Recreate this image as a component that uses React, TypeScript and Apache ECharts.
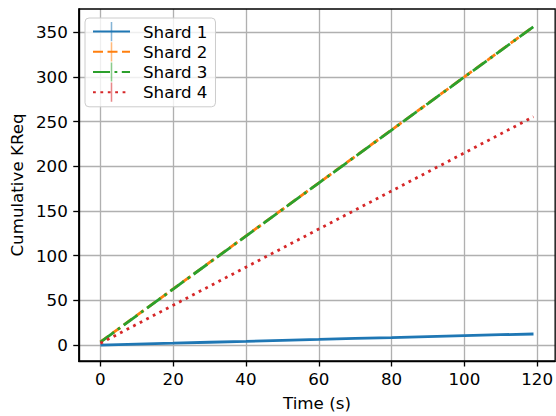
import React, { useEffect, useRef } from "react";
import * as echarts from "echarts";

const times = [0, 10, 20, 30, 40, 50, 60, 70, 80, 90, 100, 110, 119];
const shard1 = [0, 1.1, 2.1, 3.2, 4.2, 5.3, 6.3, 7.4, 8.4, 9.5, 10.6, 11.6, 12.4];
const shard2 = [3.5, 33.2, 62.8, 92.5, 122.1, 151.8, 181.4, 211.1, 240.7, 270.4, 300.0, 329.7, 356.3];
const shard3 = [3.4, 33.0, 62.7, 92.3, 122.0, 151.6, 181.3, 210.9, 240.6, 270.2, 299.9, 329.5, 356.1];
const shard4 = [2.0, 23.3, 44.6, 65.9, 87.2, 108.5, 129.8, 151.1, 172.4, 193.7, 215.0, 236.3, 255.5];
const seriesNames = ["Shard 1", "Shard 2", "Shard 3", "Shard 4"];
const xTicks = [0, 20, 40, 60, 80, 100, 120];
const yTicks = [0, 50, 100, 150, 200, 250, 300, 350];

const FONT = "DejaVu Sans";
const FS = 16.7;
const LW = 2.8;
const barSymbol =
  "path://M9.2 0H10.8V20H9.2Z M0 0h0.01v0.01h-0.01Z M19.99 19.99h0.01v0.01h-0.01Z";

export default function App() {
  const ref = useRef<HTMLDivElement>(null);
  useEffect(() => {
    if (!ref.current) return;
    const chart = echarts.init(ref.current, undefined, { renderer: "svg" });
    const colors = ["#1f77b4", "#ff7f0e", "#2ca02c", "#d62728"];
    const fades = [
      "rgba(31,119,180,0.55)",
      "rgba(255,127,14,0.55)",
      "rgba(44,160,44,0.55)",
      "rgba(214,39,40,0.55)",
    ];
    const dashes: any[] = ["solid", [10, 4.5], [17, 4.5, 2.8, 4.5], [2.8, 4.6]];
    const datasets = [shard1, shard2, shard3, shard4];
    const series = datasets.map((vals, i) => ({
      name: seriesNames[i],
      type: "line",
      data: times.map((t, j) => [t, vals[j]]),
      symbol: barSymbol,
      showSymbol: false,
      symbolSize: 0,
      lineStyle: { color: colors[i], width: LW, type: dashes[i], cap: "butt" },
      itemStyle: { color: fades[i] },
      color: colors[i],
      z: 2 + i,
    }));
    chart.setOption({
      animation: false,
      backgroundColor: "#ffffff",
      grid: {
        left: 77,
        top: 9,
        right: -1,
        bottom: 49,
        show: true,
        borderColor: "#000",
        borderWidth: 1.33,
        backgroundColor: "transparent",
        z: 10,
      },
      legend: {
        orient: "vertical",
        left: 85,
        top: 18,
        padding: [4, 8, 5, 7],
        itemWidth: 37,
        itemHeight: 24,
        itemGap: 1,
        backgroundColor: "rgba(255,255,255,0.8)",
        borderColor: "#cccccc",
        borderWidth: 1,
        borderRadius: 4,
        textStyle: {
          fontFamily: FONT,
          fontSize: FS,
          color: "#000",
          padding: [0, 0, 0, 8],
        },
        data: seriesNames,
      },
      xAxis: {
        type: "value",
        min: -5.95,
        max: 124.95,
        name: "Time (s)",
        nameLocation: "middle",
        nameGap: 33,
        nameTextStyle: { fontFamily: FONT, fontSize: FS, color: "#000" },
        axisLine: { show: true, onZero: false, lineStyle: { color: "#000", width: 1.33 } },
        axisTick: {
          show: true,
          inside: false,
          length: 5.5,
          customValues: xTicks,
          lineStyle: { color: "#000", width: 1.33 },
        },
        axisLabel: {
          customValues: xTicks,
          margin: 9,
          fontFamily: FONT,
          fontSize: FS,
          color: "#000",
        },
        splitLine: { show: true, lineStyle: { color: "#b0b0b0", width: 1.33 } },
      },
      yAxis: {
        type: "value",
        min: -17.8,
        max: 376,
        name: "Cumulative KReq",
        nameLocation: "middle",
        nameGap: 51,
        nameTextStyle: { fontFamily: FONT, fontSize: FS, color: "#000" },
        axisLine: { show: true, onZero: false, lineStyle: { color: "#000", width: 1.33 } },
        axisTick: {
          show: true,
          inside: false,
          length: 5.5,
          customValues: yTicks,
          lineStyle: { color: "#000", width: 1.33 },
        },
        axisLabel: {
          customValues: yTicks,
          margin: 11,
          fontFamily: FONT,
          fontSize: FS,
          color: "#000",
        },
        splitLine: { show: true, lineStyle: { color: "#b0b0b0", width: 1.33 } },
      },
      series,
    });
    return () => chart.dispose();
  }, []);
  return (
    <div
      ref={ref}
      style={{ position: "fixed", left: 0, top: 0, width: 556, height: 416, background: "#fff" }}
    />
  );
}
